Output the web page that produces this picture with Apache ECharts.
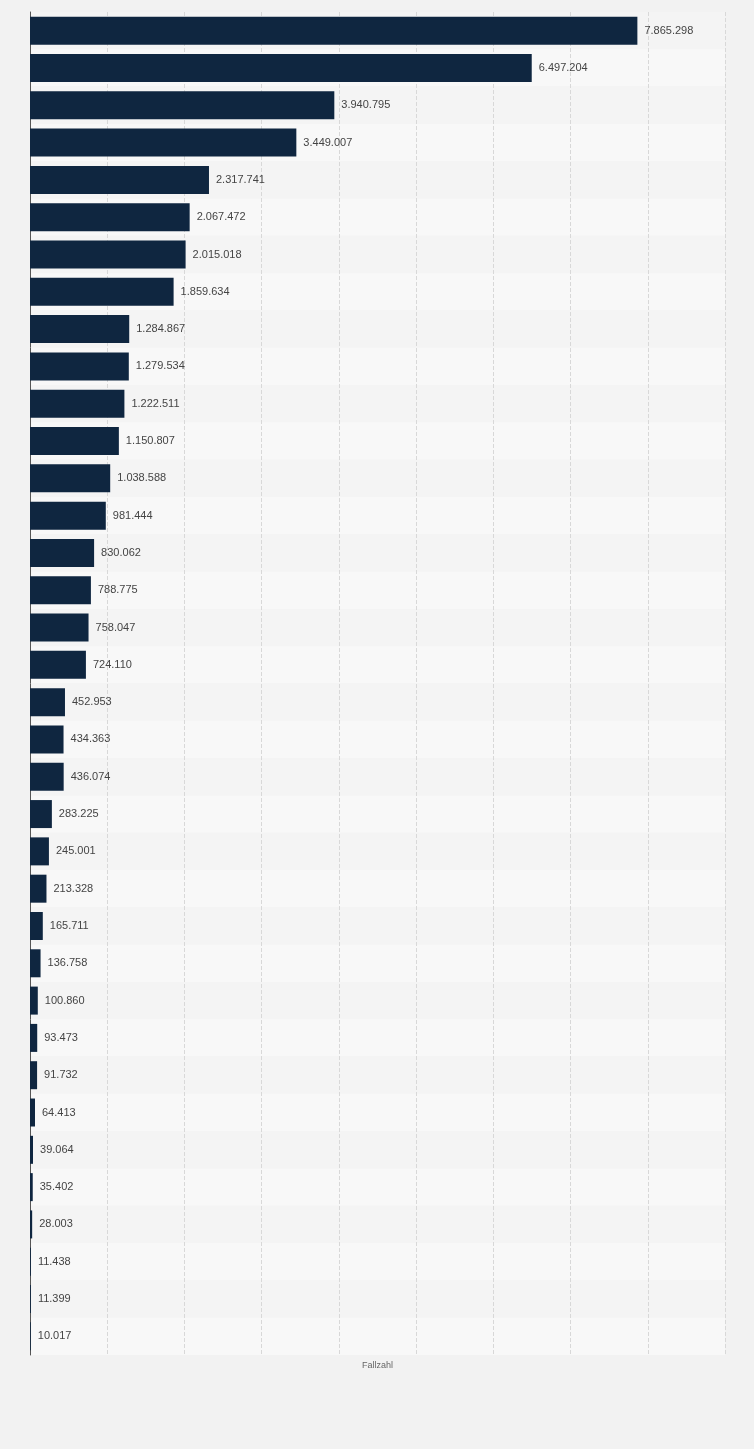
<!DOCTYPE html>
<html><head><meta charset="utf-8">
<script src="https://cdn.jsdelivr.net/npm/echarts@6/dist/echarts.min.js"></script>
<style>html,body{margin:0;padding:0;background:#f2f2f2}#c{width:754px;height:1449px}</style>
</head><body><div id="c"></div>
<script>
const categories = Array.from({length:36},(_,i)=>'Rang '+(i+1));
const values = [7865298,6497204,3940795,3449007,2317741,2067472,2015018,1859634,1284867,1279534,1222511,1150807,1038588,981444,830062,788775,758047,724110,452953,434363,436074,283225,245001,213328,165711,136758,100860,93473,91732,64413,39064,35402,28003,11438,11399,10017];
const fmt = v => String(v).replace(/\B(?=(\d{3})+(?!\d))/g,'.');
const chart = echarts.init(document.getElementById('c'));
chart.setOption({
  backgroundColor:'#f2f2f2',
  grid:{left:30,right:29,top:12,bottom:94},
  xAxis:{type:'value',min:0,max:9000000,interval:1000000,
    name:'Fallzahl',nameLocation:'middle',nameGap:6,
    nameTextStyle:{color:'#666',fontSize:9,fontFamily:'Arial'},
    axisLabel:{show:false},axisLine:{show:false},axisTick:{show:false},
    splitLine:{lineStyle:{color:'#d8d8d8',type:'dashed'}}},
  yAxis:{type:'category',data:categories,inverse:true,
    axisLabel:{show:false},axisTick:{show:false},
    axisLine:{lineStyle:{color:'#555'}},
    splitArea:{show:true,areaStyle:{color:['#f4f4f4','#f8f8f8']}}},
  series:[{type:'bar',data:values,barWidth:28,
    itemStyle:{color:'#0f2640'},
    label:{show:true,position:'right',distance:7,color:'#444',fontSize:11,fontFamily:'Arial',
      formatter:p=>fmt(p.value)}}]
});
</script></body></html>
